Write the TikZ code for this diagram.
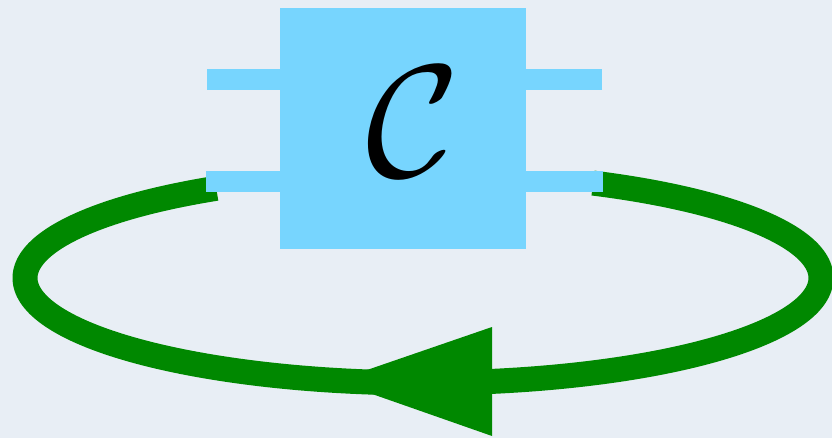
\documentclass[tikz,border=0pt]{standalone}
\definecolor{bgcol}{HTML}{E8EEF5}
\definecolor{boxblue}{HTML}{77D5FE}
\definecolor{loopgreen}{HTML}{008800}
\tikzset{
  wire/.style={draw=boxblue, line width=21pt},
  loopline/.style={draw=loopgreen, line width=25pt},
  blackbox/.style={fill=boxblue, minimum width=246pt, minimum height=241pt, inner sep=0pt, draw=none},
}
\begin{document}
\begin{tikzpicture}[x=1pt,y=-1pt]
\useasboundingbox (0,0) rectangle (832,438);
\fill[bgcol] (0,0) rectangle (832,438);
% feedback loop
\coordinate (loopL) at (216,187);
\coordinate (loopR) at (593,180);
\draw[loopline] plot[domain=121.3:424.7, samples=240] ({423+398*cos(\x)},{278-105*sin(\x)});
\coordinate (tip) at (335,381);
\fill[loopgreen] (tip) -- (492,327) -- (492,436) -- cycle;
% box and wires
\node[blackbox] (C) at (403,128.5) {};
\coordinate (l1) at (207,79.5);
\coordinate (l2) at (206,181.5);
\coordinate (r1) at (602,80);
\coordinate (r2) at (603,181.5);
\draw[wire] (l1) -- (l1 -| C.west);
\draw[wire] (l2) -- (l2 -| C.west);
\draw[wire] (r1) -- (r1 -| C.east);
\draw[wire] (r2) -- (r2 -| C.east);
\fill[boxblue] (C.north west) rectangle (C.south east);
\node[scale=16, inner sep=0pt] (label) at (413,122) {$\mathcal{C}$};
\end{tikzpicture}
\end{document}
